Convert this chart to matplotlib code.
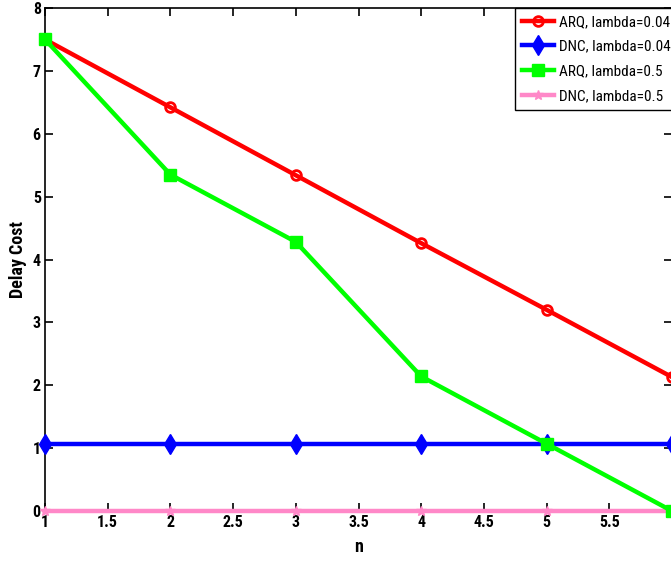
import matplotlib.pyplot as plt
import numpy as np

plt.rcParams['font.family'] = ['Roboto Condensed', 'Liberation Sans', 'DejaVu Sans']

# data
n = [1, 2, 3, 4, 5, 6]
arq_004 = [7.5, 6.42, 5.34, 4.26, 3.2, 2.13]
dnc_004 = [1.07, 1.07, 1.07, 1.07, 1.07, 1.07]
arq_05 = [7.5, 5.35, 4.28, 2.14, 1.07, 0.0]
dnc_05 = [0, 0, 0, 0, 0, 0]

fig = plt.figure(figsize=(6.71, 5.65), dpi=100)
# right edge slightly past the picture, as in the cropped original
ax = fig.add_axes([45/671, 1-511/565, (672-45)/671, (511-8)/565])

lw = 3.2
ax.plot(n, arq_004, color='#ff0000', lw=lw, marker='o', ms=7, mfc='none',
        mew=2, label='ARQ, lambda=0.04', clip_on=False, zorder=5)
ax.plot(n, dnc_004, color='#0000ff', lw=lw, marker='d', ms=10,
        label='DNC, lambda=0.04', clip_on=False, zorder=5)
ax.plot(n, arq_05, color='#00ff00', lw=lw, marker='s', ms=8,
        label='ARQ, lambda=0.5', clip_on=False, zorder=6)
ax.plot(n, dnc_05, color='#ff88c8', lw=lw, marker='*', ms=7,
        label='DNC, lambda=0.5', clip_on=False, zorder=4)

ax.set_xlim(1, 6)
ax.set_ylim(0, 8)
ax.set_xticks(np.arange(1, 6, 0.5))
ax.set_xticklabels(['1', '1.5', '2', '2.5', '3', '3.5', '4', '4.5', '5', '5.5'])
ax.set_yticks(range(0, 9))
ax.tick_params(direction='in', top=True, right=True, length=6, width=1.2,
               labelsize=11.5, pad=3)
for lab in ax.get_xticklabels() + ax.get_yticklabels():
    lab.set_fontweight('bold')
for sp in ax.spines.values():
    sp.set_linewidth(1.2)

ax.set_xlabel('n', fontsize=13, fontweight='bold', labelpad=6)
ax.set_ylabel('Delay Cost', fontsize=13, fontweight='bold', labelpad=4)

leg = ax.legend(loc='upper left', bbox_to_anchor=(515/671, 1-8/565),
                bbox_transform=fig.transFigure, fancybox=False, framealpha=1,
                edgecolor='black', fontsize=11, borderaxespad=0,
                handlelength=2.1, labelspacing=0.7, borderpad=0.45,
                handletextpad=0.3)
leg.get_frame().set_linewidth(1.0)

fig.savefig('out.png', dpi=100)
